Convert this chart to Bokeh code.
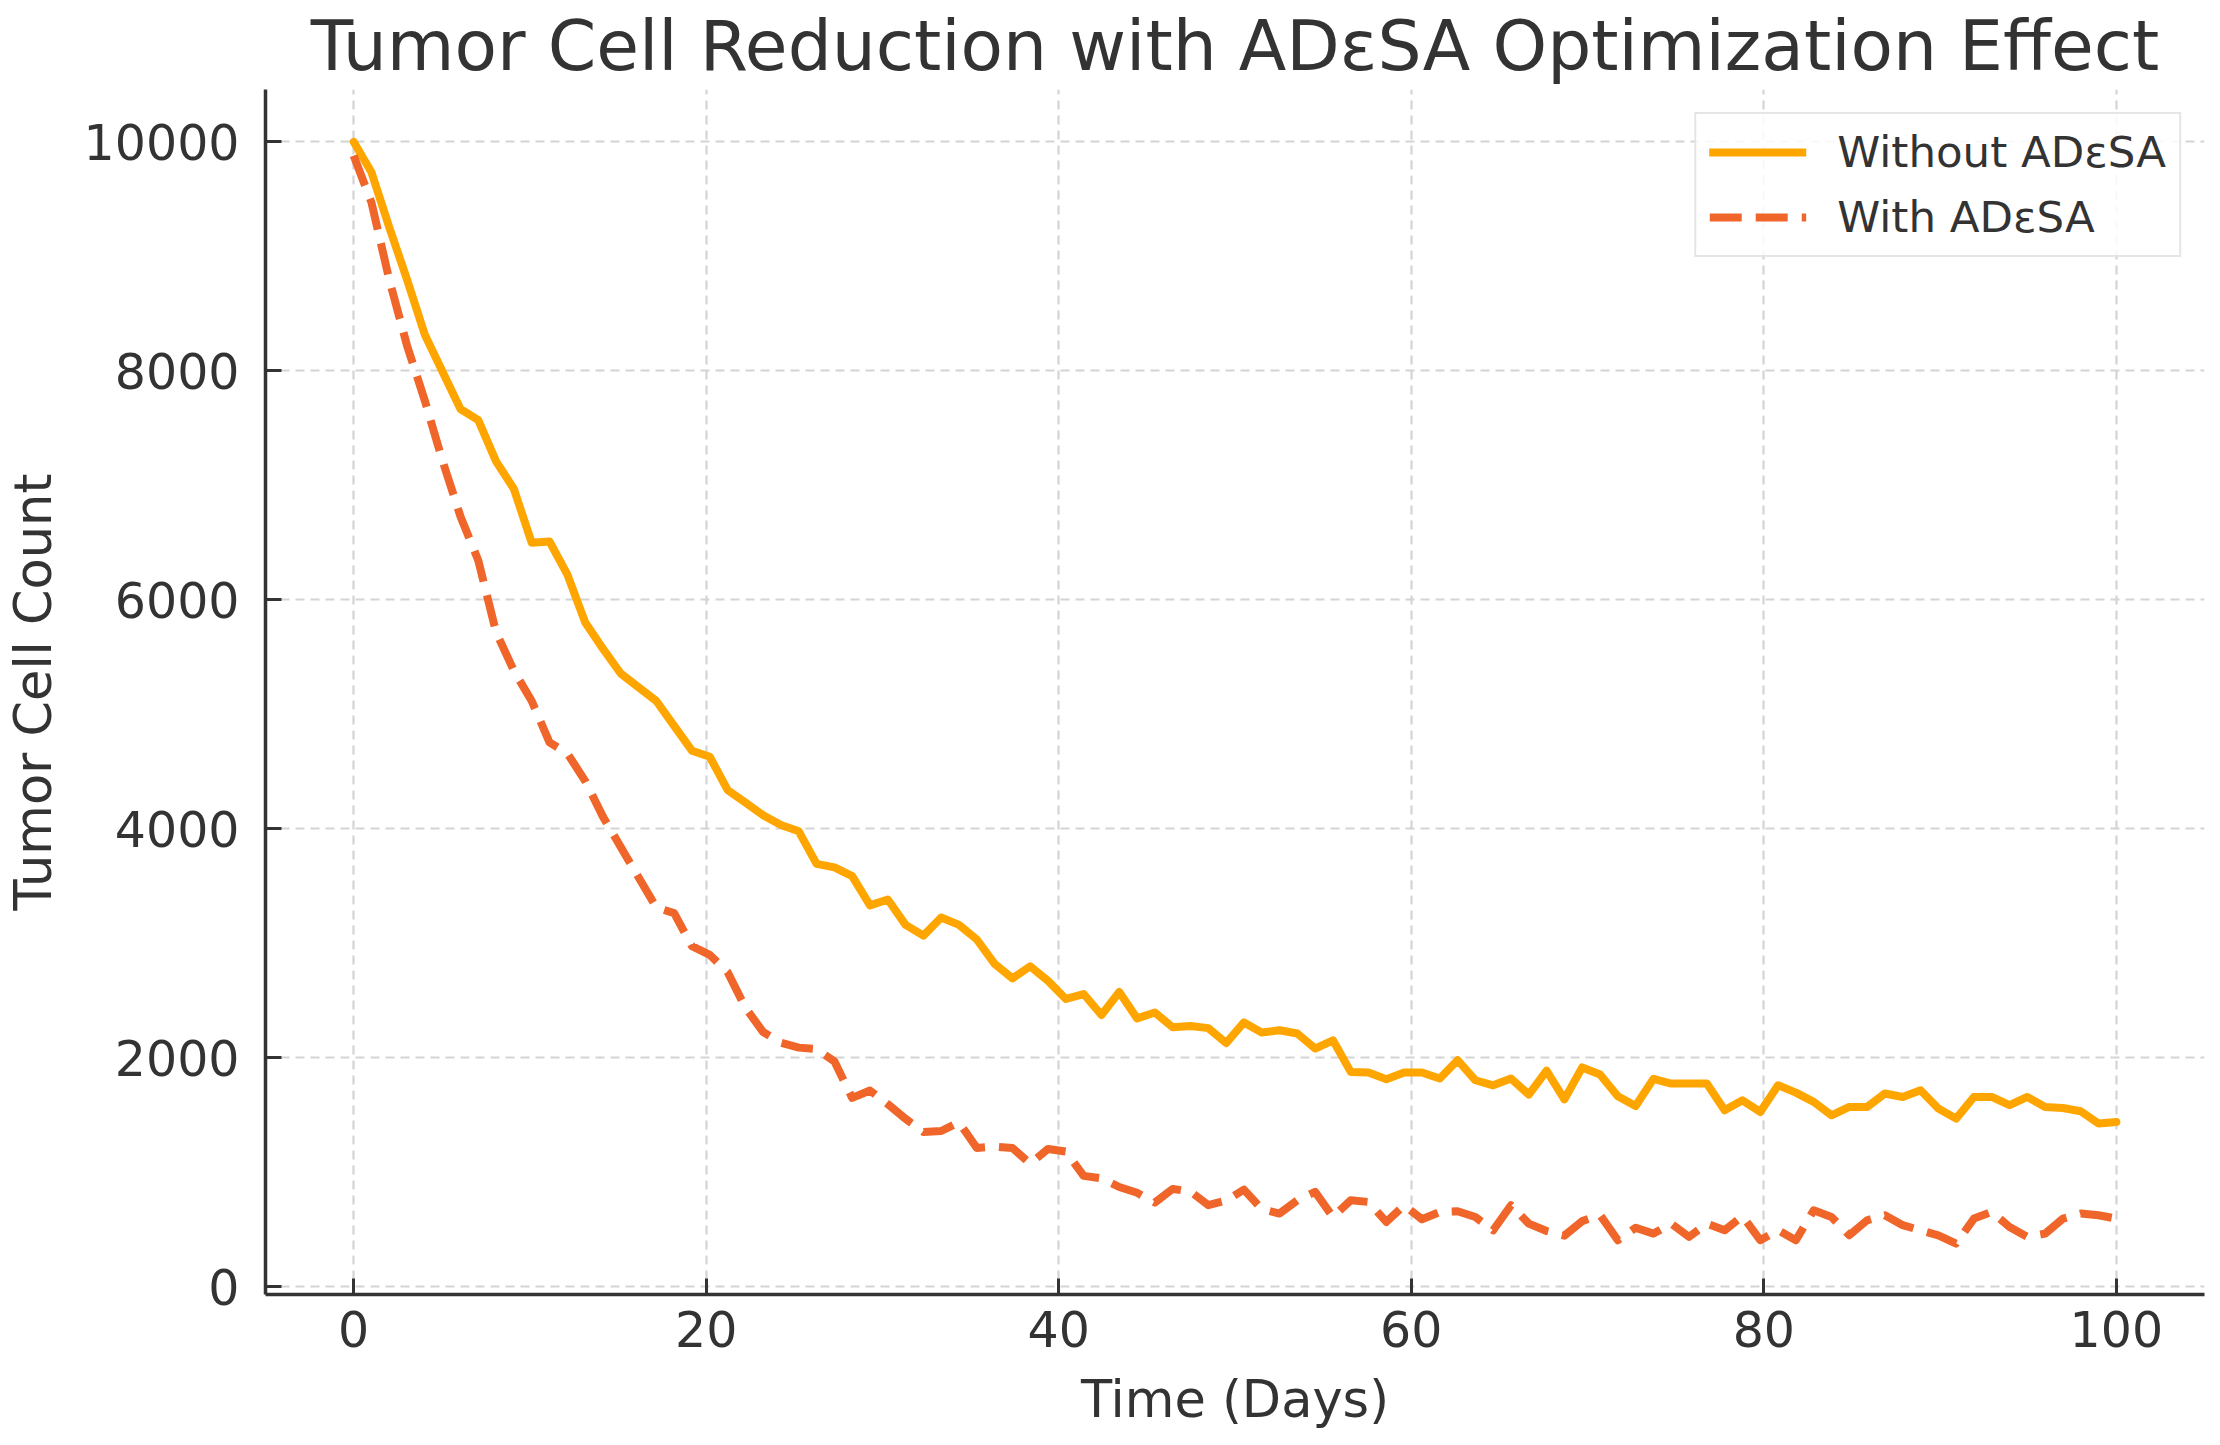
import numpy as np
from bokeh.plotting import figure
from bokeh.models import Range1d, FixedTicker, Legend, LegendItem
from bokeh.embed import file_html
from bokeh.resources import INLINE

# ---- data ----
days = np.linspace(0, 100, 100)

without_adesa = [
    10000, 9735, 9254, 8797, 8316, 7990, 7667, 7570, 7210, 6969,
    6498, 6510, 6223, 5805, 5574, 5357, 5237, 5117, 4900, 4683,
    4630, 4340, 4230, 4119, 4034, 3979, 3694, 3664, 3587, 3332,
    3383, 3162, 3068, 3226, 3162, 3034, 2821, 2694, 2800, 2673,
    2515, 2558, 2375, 2575, 2345, 2396, 2268, 2278, 2260, 2130,
    2310, 2222, 2242, 2213, 2082, 2154, 1878, 1872, 1814, 1872,
    1872, 1820, 1980, 1805, 1761, 1820, 1680, 1888, 1638, 1917,
    1856, 1666, 1580, 1817, 1776, 1776, 1776, 1543, 1630, 1528,
    1761, 1697, 1616, 1499, 1572, 1572, 1689, 1659, 1718, 1558,
    1470, 1659, 1659, 1587, 1659, 1572, 1563, 1534, 1427, 1441,
]

with_adesa = [
    9880, 9471, 8797, 8220, 7739, 7210, 6729, 6344, 5718, 5381,
    5117, 4756, 4660, 4420, 4107, 3842, 3577, 3313, 3265, 2976,
    2900, 2750, 2439, 2226, 2132, 2090, 2077, 1970, 1651, 1715,
    1596, 1468, 1353, 1362, 1438, 1213, 1226, 1213, 1077, 1205,
    1183, 970, 949, 873, 822, 737, 856, 833, 714, 755,
    850, 680, 641, 757, 830, 611, 757, 742, 568, 713,
    591, 655, 661, 611, 495, 713, 553, 488, 448, 575,
    629, 408, 517, 466, 553, 437, 553, 495, 618, 408,
    495, 408, 670, 611, 451, 582, 626, 539, 495, 451,
    379, 597, 655, 524, 437, 466, 597, 641, 626, 597,
]

x_ticks = [0, 20, 40, 60, 80, 100]
y_ticks = [0, 2000, 4000, 6000, 8000, 10000]

title_text = "Tumor Cell Reduction with ADεSA Optimization Effect"
x_label = "Time (Days)"
y_label = "Tumor Cell Count"
series_names = ["Without ADεSA", "With ADεSA"]

FONT = "DejaVu Sans"
TEXT = "#333333"

p = figure(
    width=2210, height=1437,
    output_backend="svg", toolbar_location=None,
    x_range=Range1d(-5, 105), y_range=Range1d(-66, 10457),
    min_border_left=264, min_border_right=6,
    min_border_top=89, min_border_bottom=143,
    title=title_text,
)

# title
p.title.text_font = FONT
p.title.text_font_size = "69.5px"
p.title.text_font_style = "normal"
p.title.text_color = TEXT
p.title.align = "center"
p.title.vertical_align = "top"
p.title.standoff = 4

p.outline_line_color = None
p.background_fill_color = "white"
p.border_fill_color = "white"

# axes
for ax in (p.xaxis[0], p.yaxis[0]):
    ax.axis_line_color = "#333333"
    ax.axis_line_width = 3.5
    ax.major_tick_line_color = "#333333"
    ax.major_tick_line_width = 3
    ax.major_tick_in = 16
    ax.major_tick_out = 0
    ax.minor_tick_line_color = None
    ax.major_label_text_font = FONT
    ax.major_label_text_font_size = "49px"
    ax.major_label_text_color = TEXT
    ax.axis_label_text_font = FONT
    ax.axis_label_text_font_size = "51px"
    ax.axis_label_text_font_style = "normal"
    ax.axis_label_text_color = TEXT

p.xaxis.ticker = FixedTicker(ticks=x_ticks)
p.yaxis.ticker = FixedTicker(ticks=y_ticks)
p.xaxis.axis_label = x_label
p.yaxis.axis_label = y_label
p.xaxis.major_label_standoff = 16
p.yaxis.major_label_standoff = 26
p.xaxis.axis_label_standoff = 20
p.yaxis.axis_label_standoff = 18

# grid
for g in (p.xgrid[0], p.ygrid[0]):
    g.grid_line_color = "#d4d4d4"
    g.grid_line_dash = "9 6"
    g.grid_line_width = 2.2

# lines
r1 = p.line(days, without_adesa, line_color="#FFA500", line_width=8,
            line_join="round", line_cap="round")
r2 = p.line(days, with_adesa, line_color="#F0652A", line_width=8,
            line_dash="32 14", line_join="round")

legend = Legend(
    items=[LegendItem(label=series_names[0], renderers=[r1]),
           LegendItem(label=series_names[1], renderers=[r2])],
    location="top_right",
    margin=23, padding=13, spacing=15,
    glyph_width=97, glyph_height=50, label_height=50,
    label_standoff=31,
    label_text_font=FONT, label_text_font_size="43.5px", label_text_color=TEXT,
    border_line_color="#cccccc", border_line_width=2.5,
    background_fill_color="white", background_fill_alpha=0.85,
)
p.add_layout(legend)

open("out.html", "w").write(file_html(p, INLINE))
